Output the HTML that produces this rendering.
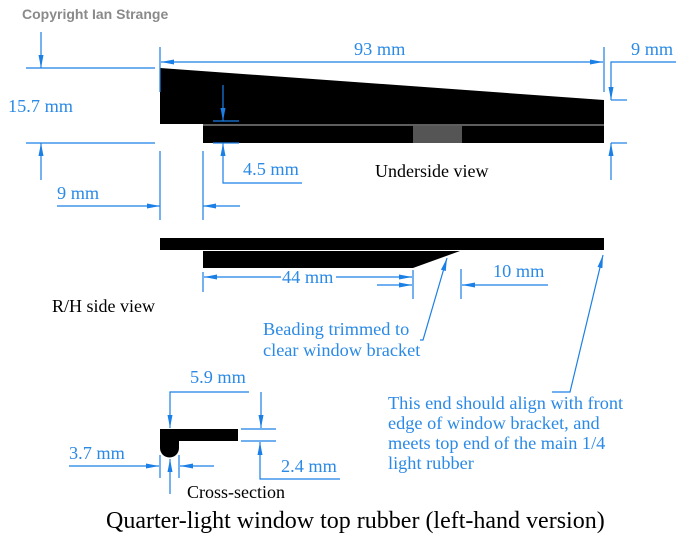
<!DOCTYPE html>
<html><head><meta charset="utf-8"><style>
html,body{margin:0;padding:0;background:#fff}
svg{display:block}
.b{stroke:#1a7fe6;stroke-width:1.2;fill:none}
.t{font-family:"Liberation Serif",serif;font-size:18.3px;fill:#2b8ae6}
.k{font-family:"Liberation Serif",serif;font-size:18px;fill:#000}
</style></head><body>
<svg width="686" height="546" viewBox="0 0 686 546" xmlns="http://www.w3.org/2000/svg">
<defs>
<marker id="a" markerUnits="userSpaceOnUse" markerWidth="14" markerHeight="8" refX="13" refY="3.5" orient="auto">
<path d="M0,1 L13,3.5 L0,6 Z" fill="#1a7fe6"/>
</marker>
</defs>
<text x="22" y="19" font-family="Liberation Sans,sans-serif" font-size="14" font-weight="bold" fill="#8a8a8a">Copyright Ian Strange</text>

<polygon points="160,68 604,100 604,143 203,143 203,124 160,124" fill="#000"/>
<line x1="203" y1="125" x2="604" y2="125" stroke="#bbb" stroke-width="1"/>
<rect x="413" y="126" width="49" height="17" fill="#555"/>

<line class="b" x1="26" y1="68" x2="155" y2="68"/>
<line class="b" x1="26" y1="143" x2="155" y2="143"/>
<line class="b" x1="41" y1="32" x2="41" y2="68" marker-end="url(#a)"/>
<line class="b" x1="41" y1="180" x2="41" y2="143" marker-end="url(#a)"/>
<text class="t" x="8" y="112">15.7 mm</text>

<line class="b" x1="160" y1="47" x2="160" y2="92"/>
<line class="b" x1="604" y1="47" x2="604" y2="92"/>
<line class="b" x1="382" y1="62" x2="161" y2="62" marker-end="url(#a)"/>
<line class="b" x1="382" y1="62" x2="603" y2="62" marker-end="url(#a)"/>
<text class="t" x="354" y="55">93 mm</text>

<polyline class="b" points="676,62 611,62 611,100" marker-end="url(#a)"/>
<line class="b" x1="611" y1="100" x2="627" y2="100"/>
<line class="b" x1="611" y1="143" x2="627" y2="143"/>
<line class="b" x1="611" y1="180" x2="611" y2="143" marker-end="url(#a)"/>
<text class="t" x="631" y="55">9 mm</text>

<line class="b" x1="223" y1="85" x2="223" y2="121" marker-end="url(#a)"/>
<line class="b" x1="213" y1="121" x2="239" y2="121"/>
<line class="b" x1="213" y1="143" x2="239" y2="143"/>
<polyline class="b" points="302,183 223,183 223,143" marker-end="url(#a)"/>
<text class="t" x="243" y="175">4.5 mm</text>

<line class="b" x1="160" y1="151" x2="160" y2="220"/>
<line class="b" x1="203" y1="151" x2="203" y2="220"/>
<line class="b" x1="57" y1="206" x2="160" y2="206" marker-end="url(#a)"/>
<line class="b" x1="240" y1="206" x2="203" y2="206" marker-end="url(#a)"/>
<text class="t" x="57" y="199">9 mm</text>

<text class="k" x="375" y="177">Underside view</text>

<rect x="160" y="238" width="444" height="12" fill="#000"/>
<polygon points="203,251 460,251 413,268 203,268" fill="#000"/>

<line class="b" x1="203" y1="272" x2="203" y2="292"/>
<line class="b" x1="413" y1="270" x2="413" y2="299"/>
<line class="b" x1="281" y1="277" x2="204" y2="277" marker-end="url(#a)"/>
<line class="b" x1="336" y1="277" x2="412" y2="277" marker-end="url(#a)"/>
<line class="b" x1="377" y1="285" x2="412" y2="285" marker-end="url(#a)"/>
<text class="t" x="282" y="283">44 mm</text>

<line class="b" x1="461" y1="269" x2="461" y2="299"/>
<line class="b" x1="548" y1="285" x2="462" y2="285" marker-end="url(#a)"/>
<text class="t" x="493" y="277">10 mm</text>

<text class="k" x="52" y="312">R/H side view</text>

<polyline class="b" points="420,340 423,340 447,258" marker-end="url(#a)"/>
<text class="t" x="263" y="335">Beading trimmed to</text>
<text class="t" x="263" y="356">clear window bracket</text>

<polyline class="b" points="552,392 570,392 603,255" marker-end="url(#a)"/>
<text class="t" x="388" y="409">This end should align with front</text>
<text class="t" x="388" y="429">edge of window bracket, and</text>
<text class="t" x="388" y="449">meets top end of the main 1/4</text>
<text class="t" x="388" y="469">light rubber</text>

<path d="M160,429 L238,429 L238,441 L179,441 L179,448 A9.5,9.5 0 0 1 160,448 Z" fill="#000"/>
<polyline class="b" points="249,392 170,392 170,428" marker-end="url(#a)"/>
<line class="b" x1="261" y1="392" x2="261" y2="428" marker-end="url(#a)"/>
<line class="b" x1="241" y1="429" x2="276" y2="429"/>
<line class="b" x1="241" y1="441" x2="276" y2="441"/>
<polyline class="b" points="340,479 260,479 260,442" marker-end="url(#a)"/>
<text class="t" x="190" y="383">5.9 mm</text>
<text class="t" x="281" y="472">2.4 mm</text>

<line class="b" x1="160" y1="455" x2="160" y2="478"/>
<line class="b" x1="179" y1="455" x2="179" y2="478"/>
<line class="b" x1="69" y1="466" x2="159" y2="466" marker-end="url(#a)"/>
<line class="b" x1="214" y1="466" x2="180" y2="466" marker-end="url(#a)"/>
<line class="b" x1="170" y1="494" x2="170" y2="459" marker-end="url(#a)"/>
<text class="t" x="69" y="459">3.7 mm</text>
<text class="k" x="187" y="498" font-size="17">Cross-section</text>

<text x="106" y="528" font-family="Liberation Serif,serif" font-size="24" fill="#000">Quarter-light window top rubber (left-hand version)</text>
</svg>
</body></html>
